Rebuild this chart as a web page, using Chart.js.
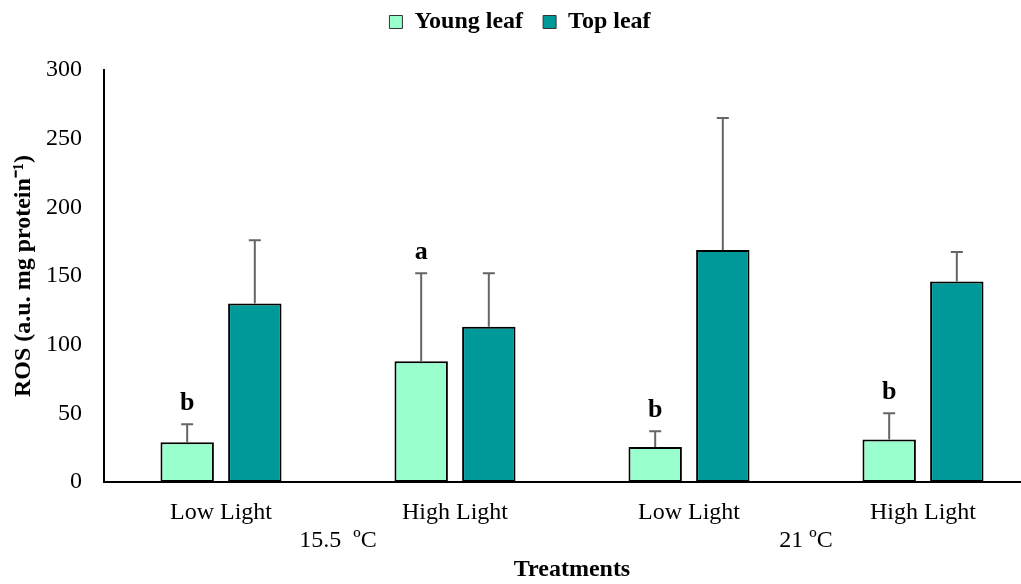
<!DOCTYPE html>
<html lang="en">
<head>
    <meta charset="UTF-8">
    <title>ROS</title>
    <script src="https://cdn.jsdelivr.net/npm/chart.js"></script>
    <style>
        body {
            margin: 0;
            background-color: #fff;
            overflow: hidden;
        }
        .wrap {
            width: 1040px;
            height: 584px;
        }
    </style>
</head>
<body>
    <div class="wrap">
        <canvas id="rosChart" width="1040" height="584"></canvas>
    </div>

    <script>
        // values
        const categories = ['Low Light', 'High Light', 'Low Light', 'High Light'];
        const temps = ['15.5  ºC', '21 ºC'];
        const youngLeaf = [29, 88, 25.5, 31];
        const topLeaf = [130, 113, 169, 146];
        const youngErr = [13, 64, 11.5, 19];
        const topErr = [46, 39, 96, 21.5];
        const youngLetters = ['b', 'a', 'b', 'b'];
        const topLetters = ['', '', '', ''];

        const serif = "'Liberation Serif', 'Times New Roman', serif";

        // error bars (upper only) + letters above them
        const errorBars = {
            id: 'errorBars',
            afterDatasetsDraw(chart) {
                const ctx = chart.ctx;
                const y = chart.scales.y;
                chart.data.datasets.forEach((ds, i) => {
                    const meta = chart.getDatasetMeta(i);
                    meta.data.forEach((bar, j) => {
                        const top = y.getPixelForValue(ds.data[j] + ds.errors[j]);
                        ctx.save();
                        ctx.strokeStyle = '#666';
                        ctx.lineWidth = 2;
                        ctx.beginPath();
                        ctx.moveTo(bar.x, bar.y);
                        ctx.lineTo(bar.x, top);
                        ctx.moveTo(bar.x - 6, top);
                        ctx.lineTo(bar.x + 6, top);
                        ctx.stroke();
                        if (ds.letters[j]) {
                            ctx.fillStyle = '#000';
                            ctx.font = 'bold 26px ' + serif;
                            ctx.textAlign = 'center';
                            ctx.textBaseline = 'alphabetic';
                            ctx.fillText(ds.letters[j], bar.x, top - 14);
                        }
                        ctx.restore();
                    });
                });
            }
        };

        // extra room under the legend
        const legendGap = {
            id: 'legendGap',
            beforeInit(chart) {
                const fit = chart.legend.fit;
                chart.legend.fit = function () {
                    fit.bind(chart.legend)();
                    this.height += 26;
                };
            }
        };

        const ctx = document.getElementById('rosChart').getContext('2d');
        new Chart(ctx, {
            type: 'bar',
            data: {
                labels: categories,
                datasets: [{
                    label: 'Young leaf',
                    data: youngLeaf,
                    errors: youngErr,
                    letters: youngLetters,
                    backgroundColor: '#99FFCC',
                    borderColor: '#000',
                    borderWidth: 2,
                    borderSkipped: false
                }, {
                    label: 'Top leaf',
                    data: topLeaf,
                    errors: topErr,
                    letters: topLetters,
                    backgroundColor: '#009999',
                    borderColor: '#000',
                    borderWidth: 2,
                    borderSkipped: false
                }]
            },
            options: {
                responsive: false,
                animation: false,
                categoryPercentage: 0.578,
                barPercentage: 0.79,
                layout: { padding: { top: -10, left: 0, right: 0, bottom: 0 } },
                scales: {
                    x: {
                        grid: { display: false, drawTicks: false },
                        border: { display: true, color: '#000', width: 2 },
                        ticks: {
                            color: '#000',
                            padding: 16,
                            font: { family: serif, size: 24 }
                        },
                        afterFit(scale) { scale.height = 44; }
                    },
                    x2: {
                        type: 'category',
                        labels: temps,
                        position: 'bottom',
                        offset: true,
                        grid: { display: false, drawTicks: false },
                        border: { display: false },
                        ticks: {
                            color: '#000',
                            padding: 0,
                            font: { family: serif, size: 24 }
                        },
                        title: {
                            display: true,
                            text: 'Treatments',
                            color: '#000',
                            padding: { top: 0, bottom: 0 },
                            font: { family: serif, size: 24, weight: 'bold' }
                        },
                        afterFit(scale) { scale.height = 58; }
                    },
                    y: {
                        min: 0,
                        max: 300,
                        grid: { display: false, drawTicks: false },
                        border: { display: true, color: '#000', width: 2 },
                        ticks: {
                            stepSize: 50,
                            color: '#000',
                            padding: 22,
                            font: { family: serif, size: 24 }
                        },
                        title: {
                            display: true,
                            text: 'ROS (a.u. mg protein⁻¹)',
                            color: '#000',
                            padding: { top: 9, bottom: 0 },
                            font: { family: serif, size: 24, weight: 'bold' }
                        },
                        afterFit(scale) { scale.width = 104; }
                    }
                },
                plugins: {
                    legend: {
                        position: 'top',
                        labels: {
                            color: '#000',
                            boxWidth: 13,
                            boxHeight: 13,
                            padding: 20,
                            font: { family: serif, size: 24, weight: 'bold' },
                            generateLabels(chart) {
                                const items = Chart.defaults.plugins.legend.labels.generateLabels(chart);
                                items.forEach(it => { it.lineWidth = 1; it.strokeStyle = '#333'; });
                                return items;
                            }
                        }
                    },
                    tooltip: { enabled: false }
                }
            },
            plugins: [errorBars, legendGap]
        });
    </script>
</body>
</html>
